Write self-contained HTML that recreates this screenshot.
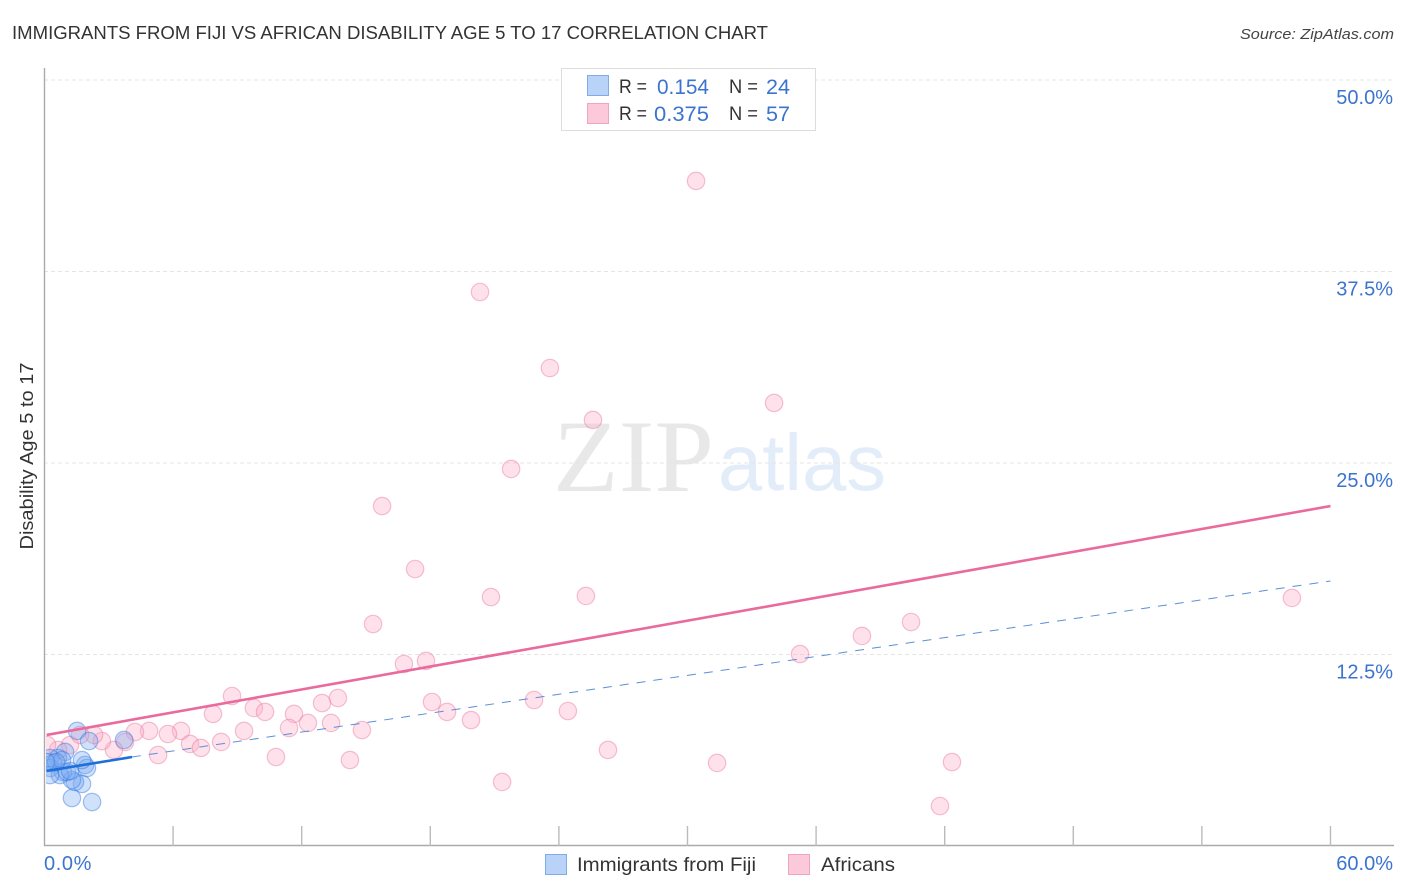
<!DOCTYPE html>
<html>
<head>
<meta charset="utf-8">
<title>Immigrants from Fiji vs African Disability Age 5 to 17 Correlation Chart</title>
<style>
html,body{margin:0;padding:0;background:#fff;width:1406px;height:892px;overflow:hidden}
svg{display:block}
text{font-family:"Liberation Sans",sans-serif}
</style>
</head>
<body>
<svg id="chart" width="1406" height="892" viewBox="0 0 1406 892" xmlns="http://www.w3.org/2000/svg">
  <defs><clipPath id="plot-clip"><rect x="46" y="60" width="1348" height="785"/></clipPath></defs>
  <text x="12" y="39" font-size="18.5" fill="#333" textLength="756" lengthAdjust="spacingAndGlyphs">IMMIGRANTS FROM FIJI VS AFRICAN DISABILITY AGE 5 TO 17 CORRELATION CHART</text>
  <text x="1394" y="39" font-size="15" fill="#444" font-style="italic" text-anchor="end" textLength="154" lengthAdjust="spacingAndGlyphs">Source: ZipAtlas.com</text>
  <g>
    <text x="553" y="491" style="font-family:'Liberation Serif',serif" font-size="103" fill="#e8e8e8" textLength="161" lengthAdjust="spacingAndGlyphs">ZIP</text>
    <text x="718" y="490" font-size="80" fill="#e3edfa" textLength="168" lengthAdjust="spacingAndGlyphs">atlas</text>
  </g>
  <g id="grid"></g>
  <g id="axes"></g>
  <g id="marks" clip-path="url(#plot-clip)"></g>
  <g id="trends"></g>
  <g>
    <rect x="561.5" y="68.5" width="254" height="62" fill="#fff" stroke="#ddd"/>
    <rect x="587.5" y="75.5" width="21" height="20" fill="#b9d3f8" stroke="#7fabe6"/>
    <rect x="587.5" y="103.5" width="21" height="20" fill="#fcc9da" stroke="#f0a5bf"/>
    <g font-size="19.5" fill="#333">
      <text x="619" y="93" textLength="28" lengthAdjust="spacingAndGlyphs">R =</text>
      <text x="729" y="93" textLength="29" lengthAdjust="spacingAndGlyphs">N =</text>
      <text x="619" y="120" textLength="28" lengthAdjust="spacingAndGlyphs">R =</text>
      <text x="729" y="120" textLength="29" lengthAdjust="spacingAndGlyphs">N =</text>
    </g>
    <g font-size="21.5" fill="#3b74cf">
      <text x="657" y="94" textLength="52" lengthAdjust="spacingAndGlyphs">0.154</text>
      <text x="766" y="94" textLength="24" lengthAdjust="spacingAndGlyphs">24</text>
      <text x="654" y="121" textLength="55" lengthAdjust="spacingAndGlyphs">0.375</text>
      <text x="766" y="121" textLength="24" lengthAdjust="spacingAndGlyphs">57</text>
    </g>
  </g>
  <text transform="translate(33,456) rotate(-90)" font-size="18.5" fill="#333" text-anchor="middle" textLength="187" lengthAdjust="spacingAndGlyphs">Disability Age 5 to 17</text>
  <g>
    <rect x="545.5" y="854.5" width="21" height="20" fill="#b9d3f8" stroke="#7fabe6"/>
    <text x="577" y="871" font-size="19.5" fill="#333" textLength="179" lengthAdjust="spacingAndGlyphs">Immigrants from Fiji</text>
    <rect x="788.5" y="854.5" width="21" height="20" fill="#fcc9da" stroke="#f0a5bf"/>
    <text x="821" y="871" font-size="19.5" fill="#333" textLength="74" lengthAdjust="spacingAndGlyphs">Africans</text>
  </g>
</svg>
<script>
var fijiX = [1.52,2.08,3.71,1.28,2.22,1.75,1.42,1.28,1.89,1.98,1.75,0.96,0.63,0.26,0.26,0.40,0.86,0.72,1.05,0.26,1.19,0.82,0.54,0.07];
var fijiY = [7.51,6.85,6.92,3.13,2.87,4.05,4.18,4.31,5.29,5.09,5.61,6.14,5.74,5.74,5.09,5.42,4.83,4.63,4.83,4.63,4.90,5.61,5.48,5.48];
var africansX = [30.40,20.32,23.58,25.59,34.04,21.77,15.75,17.29,20.83,25.26,15.33,58.20,40.43,38.14,35.25,16.77,17.80,8.75,13.69,12.95,18.08,18.78,19.90,22.84,24.42,9.77,10.29,7.86,11.64,12.29,13.37,14.81,11.41,9.31,6.37,4.88,5.76,4.22,8.24,6.79,7.30,5.30,10.80,14.25,26.29,31.38,42.34,21.35,41.78,3.76,3.24,2.68,2.31,1.19,0.63,0.12,1.66];
var africansY = [43.41,36.16,31.20,27.81,28.92,24.61,22.19,18.08,16.25,16.32,14.49,16.19,14.62,13.71,12.53,11.88,12.08,9.79,9.66,9.33,9.40,8.75,8.22,9.53,8.81,9.01,8.75,8.62,8.62,8.03,8.03,7.57,7.70,7.51,7.51,7.51,7.31,7.44,6.79,6.66,6.40,5.94,5.81,5.61,6.27,5.42,5.48,4.18,2.61,6.79,6.27,6.85,7.25,6.59,6.27,6.59,7.25];
var africansTrendX = [0.1,60];
var africansTrendY = [7.25,22.19];
var fijiSolidX = [0.1,4.08];
var fijiSolidY = [4.90,5.81];
var fijiDashX = [4.08,60];
var fijiDashY = [5.81,17.30];
var yTicks = [12.5,25,37.5,50];
var yTickLabels = ["12.5%","25.0%","37.5%","50.0%"];
var xTicks = [6,12,18,24,30,36,42,48,54,60];
var xEndLabels = ["0.0%","60.0%"];

var NS = "http://www.w3.org/2000/svg";
function sx(v){ return 44.5 + v * 21.433; }
function sy(v){ return 846 - v * 15.32; }
function make(tag, parent, attrs){
  var el = document.createElementNS(NS, tag);
  for (var k in attrs) el.setAttribute(k, attrs[k]);
  parent.appendChild(el);
  return el;
}
var grid = document.getElementById("grid");
var axes = document.getElementById("axes");
var marks = document.getElementById("marks");
var trends = document.getElementById("trends");

yTicks.forEach(function(t, i){
  var line = make("line", grid, {x1:44, x2:1394, y1:sy(t), y2:sy(t), stroke:"#e4e4e4", "stroke-dasharray":"4 3"});
  
  
  var label = make("text", axes, {x:1393, y:sy(t)+24, "text-anchor":"end", "font-size":"20", fill:"#3b74cf"});
  label.textContent = yTickLabels[i];
  
  
});

var yAxis = make("line", axes, {x1:44.5, x2:44.5, y1:68, y2:846, stroke:"#aaa", "stroke-width":1.4});


var xAxis = make("line", axes, {x1:44, x2:1394, y1:845.5, y2:845.5, stroke:"#aaa", "stroke-width":1.4});



xTicks.forEach(function(t){
  var tick = make("line", axes, {x1:sx(t), x2:sx(t), y1:826, y2:846, stroke:"#bbb", "stroke-width":1.4});
  
  
});

var xStart = make("text", axes, {x:44, y:870, "font-size":"20", fill:"#3b74cf", "letter-spacing":"0.6"});
xStart.textContent = xEndLabels[0];


var xEnd = make("text", axes, {x:1393, y:870, "font-size":"20", fill:"#3b74cf", "text-anchor":"end"});
xEnd.textContent = xEndLabels[1];



africansX.forEach(function(x, i){
  var c = make("circle", marks, {cx:sx(x), cy:sy(africansY[i]), r:8.7, fill:"rgba(252,175,200,0.38)", stroke:"rgba(232,120,160,0.45)", "stroke-width":1.2});
  
  
});
fijiX.forEach(function(x, i){
  var c = make("circle", marks, {cx:sx(x), cy:sy(fijiY[i]), r:8.7, fill:"rgba(120,170,240,0.35)", stroke:"rgba(50,120,225,0.45)", "stroke-width":1.2});
  
  
});

var tp = make("line", trends, {x1:sx(africansTrendX[0]), y1:sy(africansTrendY[0]), x2:sx(africansTrendX[1]), y2:sy(africansTrendY[1]), stroke:"#e96a9b", "stroke-width":2.6});


var td = make("line", trends, {x1:sx(fijiDashX[0]), y1:sy(fijiDashY[0]), x2:sx(fijiDashX[1]), y2:sy(fijiDashY[1]), stroke:"#5c8fd6", "stroke-width":1, "stroke-dasharray":"9 8"});


var ts = make("line", trends, {x1:sx(fijiSolidX[0]), y1:sy(fijiSolidY[0]), x2:sx(fijiSolidX[1]), y2:sy(fijiSolidY[1]), stroke:"#1f6fd8", "stroke-width":2.6});


</script>
</body>
</html>
